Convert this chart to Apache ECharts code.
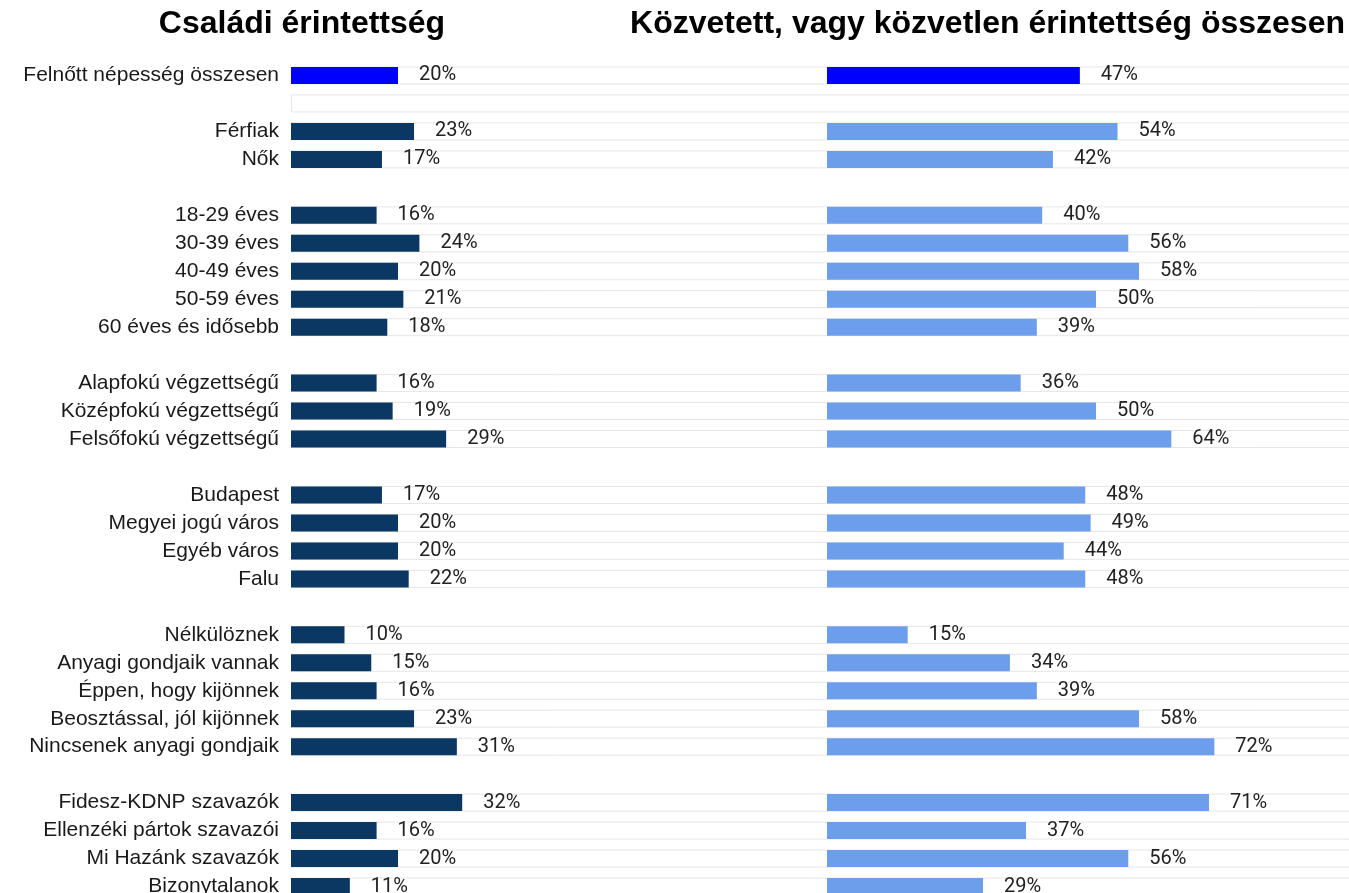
<!DOCTYPE html>
<html>
<head>
<meta charset="utf-8">
<script src="https://cdn.jsdelivr.net/npm/echarts@6/dist/echarts.min.js"></script>
<style>
html, body { margin: 0; padding: 0; background: #fff; }
#chart { width: 1349px; height: 893px; }
</style>
</head>
<body>
<div id="chart"></div>
<script>
// sorok (üres string = térköz a csoportok között)
var categories = [
  'Felnőtt népesség összesen', '',
  'Férfiak', 'Nők', '',
  '18-29 éves', '30-39 éves', '40-49 éves', '50-59 éves', '60 éves és idősebb', '',
  'Alapfokú végzettségű', 'Középfokú végzettségű', 'Felsőfokú végzettségű', '',
  'Budapest', 'Megyei jogú város', 'Egyéb város', 'Falu', '',
  'Nélkülöznek', 'Anyagi gondjaik vannak', 'Éppen, hogy kijönnek', 'Beosztással, jól kijönnek', 'Nincsenek anyagi gondjaik', '',
  'Fidesz-KDNP szavazók', 'Ellenzéki pártok szavazói', 'Mi Hazánk szavazók', 'Bizonytalanok'
];
// Családi érintettség (%)
var csaladi = [20, null, 23, 17, null, 16, 24, 20, 21, 18, null, 16, 19, 29, null, 17, 20, 20, 22, null, 10, 15, 16, 23, 31, null, 32, 16, 20, 11];
// Közvetett, vagy közvetlen érintettség összesen (%)
var kozvetett = [47, null, 54, 42, null, 40, 56, 58, 50, 39, null, 36, 50, 64, null, 48, 49, 44, 48, null, 15, 34, 39, 58, 72, null, 71, 37, 56, 29];

var leftTitle = 'Családi érintettség';
var rightTitle = 'Közvetett, vagy közvetlen érintettség összesen';

var chart = echarts.init(document.getElementById('chart'));

// halvány sorvonalak (az első térköz is kap keretet)
var rowLines = categories.map(function (c, i) {
  return (c !== '' || i === 1) ? 1 : '-';
});

function barData(arr, color) {
  return arr.map(function (v, i) {
    if (v === null) return '-';
    if (i === 0) return { value: v, itemStyle: { color: '#0000ff' } };
    return { value: v, itemStyle: { color: color } };
  });
}

var labelStyle = {
  show: true,
  position: 'right',
  distance: 21,
  formatter: '{c}%',
  fontFamily: 'Roboto',
  fontSize: 20,
  color: '#222'
};

var catAxisBase = {
  type: 'category',
  data: categories,
  inverse: true,
  axisLine: { show: false },
  axisTick: { show: false },
  splitLine: { show: false }
};

var option = {
  backgroundColor: '#fff',
  animation: false,
  graphic: [
    {
      type: 'text', x: 302, y: 24, silent: true,
      style: {
        text: leftTitle, font: 'bold 32px "Liberation Sans", Arial, sans-serif', fill: '#000',
        align: 'center', verticalAlign: 'middle', textAlign: 'center', textVerticalAlign: 'middle'
      }
    },
    {
      type: 'text', x: 1345, y: 24, silent: true,
      style: {
        text: rightTitle, font: 'bold 32px "Liberation Sans", Arial, sans-serif', fill: '#000',
        align: 'right', verticalAlign: 'middle', textAlign: 'right', textVerticalAlign: 'middle'
      }
    }
  ],
  grid: [
    { left: 291, right: -2, top: 61.5, height: 839, outerBoundsMode: 'none' },
    { left: 291, width: 535, top: 61.5, height: 839, outerBoundsMode: 'none' },
    { left: 827, width: 538, top: 61.5, height: 839, outerBoundsMode: 'none' }
  ],
  xAxis: [
    { gridIndex: 0, type: 'value', min: 0, max: 1, show: false },
    { gridIndex: 1, type: 'value', min: 0, max: 100, show: false },
    { gridIndex: 2, type: 'value', min: 0, max: 100, show: false }
  ],
  yAxis: [
    Object.assign({}, catAxisBase, { gridIndex: 0, axisLabel: { show: false } }),
    Object.assign({}, catAxisBase, {
      gridIndex: 1,
      axisLabel: {
        show: true,
        margin: 12,
        fontFamily: '"Liberation Sans", Arial, sans-serif',
        fontSize: 21,
        color: '#1a1a1a'
      }
    }),
    Object.assign({}, catAxisBase, { gridIndex: 2, axisLabel: { show: false } })
  ],
  series: [
    {
      type: 'bar',
      xAxisIndex: 0, yAxisIndex: 0,
      data: rowLines,
      barWidth: 18,
      silent: true,
      z: 1,
      itemStyle: { color: 'rgba(0,0,0,0)', borderColor: '#e6e6e6', borderWidth: 1 }
    },
    {
      name: leftTitle,
      type: 'bar',
      xAxisIndex: 1, yAxisIndex: 1,
      data: barData(csaladi, '#0b3763'),
      barWidth: 17,
      z: 3,
      label: labelStyle
    },
    {
      name: rightTitle,
      type: 'bar',
      xAxisIndex: 2, yAxisIndex: 2,
      data: barData(kozvetett, '#6d9eeb'),
      barWidth: 17,
      z: 3,
      label: labelStyle
    }
  ]
};

chart.setOption(option);
</script>
</body>
</html>
